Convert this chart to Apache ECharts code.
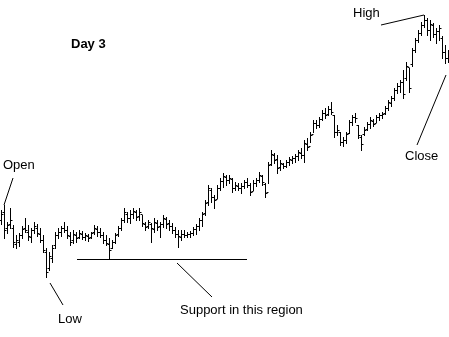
<!DOCTYPE html>
<html>
<head>
<meta charset="utf-8">
<script src="https://cdn.jsdelivr.net/npm/echarts@6/dist/echarts.min.js"></script>
<style>
html,body{margin:0;padding:0;background:#fff;}
#chart{width:449px;height:337px;}
</style>
</head>
<body>
<div id="chart"></div>
<script>
// Intraday OHLC bars (Day 3), price units arbitrary
var highs = [190,195,178,192,175,165,167,174,182,175,172,178,176,172,165,152,148,155,168,172,
174,178,174,168,170,168,170,169,167,166,168,175,174,172,168,165,162,160,167,174,
182,192,188,190,192,190,192,185,178,180,177,182,180,178,185,183,180,177,173,170,
170,170,168,169,173,176,182,188,200,215,212,205,215,222,227,225,225,222,218,217,
217,220,222,217,220,222,228,225,217,238,250,247,245,240,237,240,243,244,246,250,
252,260,262,268,280,280,283,290,292,294,298,285,275,268,263,268,280,285,287,275,
265,273,278,283,281,285,287,288,294,300,304,312,317,320,330,338,332,352,362,370,
378,385,382,380,377,372,375,364,355,350];
var lows = [176,162,167,172,153,152,154,162,168,160,158,167,164,158,148,123,130,138,152,162,
164,168,162,155,157,158,162,161,160,159,162,166,164,163,157,155,142,152,157,164,
170,178,178,177,182,180,180,174,170,172,158,168,170,163,173,172,170,167,163,153,
160,163,163,163,165,166,170,174,185,195,198,192,202,210,213,215,217,208,210,210,
207,212,213,205,210,214,218,215,203,217,235,237,227,230,232,233,235,237,238,240,
242,238,250,258,268,272,273,280,282,285,286,263,265,255,254,257,267,275,278,262,
250,265,270,272,274,278,280,282,286,290,294,300,307,308,302,320,308,334,348,358,
365,373,365,360,363,357,360,342,337,338];
var opens = [180,188,172,176,172,156,158,165,172,168,163,170,172,166,160,148,132,142,155,165,
168,172,170,164,160,165,163,166,163,164,163,168,171,168,165,160,156,152,158,166,
172,180,186,182,186,188,184,186,176,174,176,171,177,174,176,181,177,174,170,166,
163,166,165,166,167,171,174,180,187,198,210,203,201,212,219,223,220,221,212,214,
212,214,218,215,209,217,220,224,216,208,236,245,241,233,236,234,238,240,242,244,
247,245,256,254,266,277,275,281,287,286,291,285,268,268,258,260,267,278,283,275,
263,266,271,276,279,277,283,285,287,292,297,302,310,314,318,322,333,336,350,360,
367,375,380,370,375,366,369,362,348,342];
var closes = [186,170,175,180,158,160,165,171,170,164,170,174,167,160,150,128,144,152,165,168,
172,170,165,158,166,162,167,163,165,162,167,172,168,165,160,157,150,158,165,172,
180,188,182,186,189,183,188,177,173,178,172,178,173,176,182,176,174,170,166,164,
166,165,166,167,171,174,180,186,197,212,203,200,212,219,224,220,222,212,215,212,
214,218,215,208,217,220,225,218,207,235,246,240,232,237,234,238,241,242,244,248,
245,257,253,265,277,275,281,287,285,291,288,268,270,258,260,266,278,283,282,265,
256,270,276,280,276,283,285,286,292,298,302,310,314,318,306,334,312,350,360,367,
375,380,370,376,366,369,372,348,342,345];

var categories = highs.map(function(_, i){ return String(i + 1); });
var ohlc = highs.map(function(_, i){ return [i, opens[i], closes[i], lows[i], highs[i]]; });

var chart = echarts.init(document.getElementById('chart'), null, {renderer: 'canvas'});

function renderItem(params, api) {
  var x = api.value(0);
  var pO = api.coord([x, api.value(1)]);
  var pC = api.coord([x, api.value(2)]);
  var pL = api.coord([x, api.value(3)]);
  var pH = api.coord([x, api.value(4)]);
  var cx = Math.round(pH[0]) + 0.5;
  var style = {stroke: '#000', lineWidth: 1};
  return {
    type: 'group',
    children: [
      {type: 'line', shape: {x1: cx, y1: Math.round(pH[1]), x2: cx, y2: Math.round(pL[1]) + 1}, style: style},
      {type: 'line', shape: {x1: cx - 2, y1: Math.round(pO[1]) + 0.5, x2: cx, y2: Math.round(pO[1]) + 0.5}, style: style},
      {type: 'line', shape: {x1: cx, y1: Math.round(pC[1]) + 0.5, x2: cx + 2, y2: Math.round(pC[1]) + 0.5}, style: style}
    ]
  };
}

var font = '"Liberation Sans", Arial, sans-serif';
function label(text, x, y, bold) {
  return {type: 'text', left: x, top: y, z: 10,
    style: {text: text, font: (bold ? 'bold ' : '') + '13px ' + font, fill: '#000'}};
}
function seg(x1, y1, x2, y2) {
  return {type: 'line', z: 10, shape: {x1: x1, y1: y1, x2: x2, y2: y2}, style: {stroke: '#000', lineWidth: 1}};
}

chart.setOption({
  backgroundColor: '#fff',
  animation: false,
  grid: {left: 0, right: 0, top: 0, bottom: 0},
  xAxis: {type: 'category', data: categories, boundaryGap: true, show: false},
  yAxis: {type: 'value', min: 63, max: 400, show: false, splitLine: {show: false}},
  series: [{
    type: 'custom',
    renderItem: renderItem,
    encode: {x: 0, y: [1, 2, 3, 4]},
    data: ohlc
  }],
  graphic: [
    label('Day 3', 71, 38, true),
    label('Open', 3, 159, false),
    label('High', 353, 7, false),
    label('Close', 405, 150, false),
    label('Low', 58, 313, false),
    label('Support in this region', 180, 304, false),
    seg(13, 178, 4, 205),
    seg(381, 25, 424, 15),
    seg(417, 145, 446, 75),
    seg(50, 283, 63, 305),
    seg(77, 259.5, 247, 259.5),
    seg(177, 263, 212, 297)
  ]
});
</script>
</body>
</html>
